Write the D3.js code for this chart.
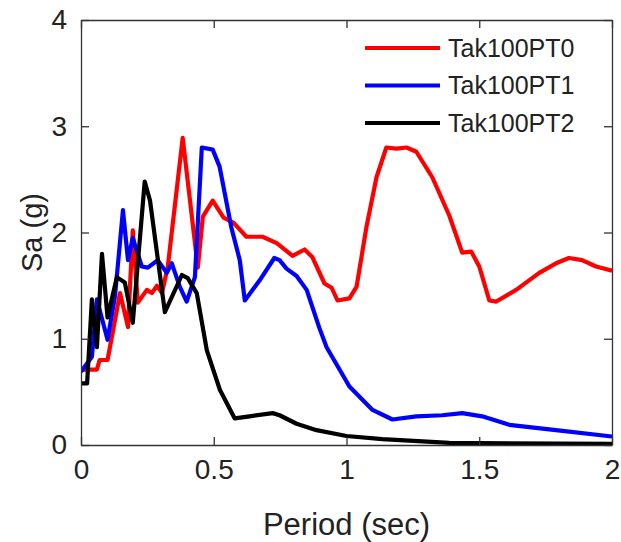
<!DOCTYPE html>
<html>
<head>
<meta charset="utf-8">
<script src="https://cdn.jsdelivr.net/npm/d3@7"></script>
<style>
  body { margin: 0; background: #fff; }
  text { font-family: "Liberation Sans", Arial, sans-serif; fill: #222; }
</style>
</head>
<body>
<div id="chart"></div>
<script>
// period (sec), Sa (g)
const pt0Period = [0, 0.06, 0.07, 0.1, 0.147, 0.177, 0.195, 0.214, 0.248, 0.267, 0.286, 0.305, 0.327, 0.383, 0.44, 0.459, 0.496, 0.537, 0.575, 0.623, 0.684, 0.737, 0.797, 0.842, 0.871, 0.917, 0.944, 0.966, 1.011, 1.038, 1.075, 1.113, 1.15, 1.188, 1.226, 1.263, 1.323, 1.387, 1.436, 1.47, 1.5, 1.538, 1.564, 1.639, 1.726, 1.789, 1.838, 1.887, 1.94, 2.0];
const pt0Sa = [0.71, 0.71, 0.8, 0.8, 1.43, 1.11, 2.02, 1.34, 1.46, 1.43, 1.5, 1.43, 1.68, 2.89, 1.67, 2.15, 2.3, 2.14, 2.09, 1.96, 1.96, 1.9, 1.78, 1.84, 1.77, 1.52, 1.48, 1.36, 1.38, 1.49, 2.05, 2.52, 2.8, 2.79, 2.8, 2.76, 2.52, 2.16, 1.81, 1.82, 1.68, 1.36, 1.35, 1.46, 1.62, 1.71, 1.76, 1.74, 1.68, 1.64];

const pt1Period = [0, 0.041, 0.06, 0.1, 0.128, 0.158, 0.177, 0.195, 0.229, 0.252, 0.289, 0.323, 0.342, 0.372, 0.398, 0.429, 0.455, 0.496, 0.522, 0.566, 0.598, 0.617, 0.673, 0.728, 0.748, 0.774, 0.812, 0.85, 0.898, 0.925, 1.011, 1.098, 1.173, 1.263, 1.361, 1.436, 1.511, 1.613, 1.789, 2.0];
const pt1Sa = [0.69, 0.83, 1.37, 0.99, 1.4, 2.21, 1.74, 1.95, 1.68, 1.67, 1.74, 1.62, 1.71, 1.49, 1.35, 1.58, 2.8, 2.78, 2.62, 2.05, 1.74, 1.36, 1.55, 1.76, 1.74, 1.66, 1.59, 1.46, 1.1, 0.92, 0.55, 0.33, 0.24, 0.27, 0.28, 0.3, 0.27, 0.19, 0.14, 0.08];

const pt2Period = [0, 0.023, 0.041, 0.06, 0.079, 0.1, 0.135, 0.165, 0.195, 0.24, 0.26, 0.316, 0.38, 0.402, 0.436, 0.474, 0.523, 0.579, 0.635, 0.722, 0.748, 0.812, 0.887, 1.0, 1.135, 1.387, 2.0];
const pt2Sa = [0.58, 0.58, 1.37, 0.92, 1.8, 1.2, 1.58, 1.53, 1.15, 2.48, 2.3, 1.25, 1.6, 1.57, 1.43, 0.89, 0.52, 0.25, 0.27, 0.3, 0.28, 0.2, 0.14, 0.085, 0.055, 0.02, 0.01];

const seriesNames = ["Tak100PT0", "Tak100PT1", "Tak100PT2"];
const seriesColors = ["#ff0000", "#0000ff", "#000000"];
const xTicks = [0, 0.5, 1, 1.5, 2];
const yTicks = [0, 1, 2, 3, 4];

const width = 621, height = 542;
const margin = {top: 20, right: 9, bottom: 97, left: 81};
const iw = width - margin.left - margin.right,
  ih = height - margin.top - margin.bottom;

const svg = d3.select("#chart")
  .append("svg")
  .attr("width", width)
  .attr("height", height);

const g = svg.append("g")
  .attr("transform", `translate(${margin.left},${margin.top})`);

const x = d3.scaleLinear().domain([0, 2]).range([0, iw]);
const y = d3.scaleLinear().domain([0, 4]).range([ih, 0]);

const series = [
  pt0Period.map((p, i) => [p, pt0Sa[i]]),
  pt1Period.map((p, i) => [p, pt1Sa[i]]),
  pt2Period.map((p, i) => [p, pt2Sa[i]])
];

const line = d3.line()
  .x(d => x(d[0]))
  .y(d => y(d[1]));

g.append("defs").append("clipPath").attr("id", "clip")
  .append("rect").attr("width", iw).attr("height", ih);

g.append("g")
  .attr("clip-path", "url(#clip)")
  .selectAll("path")
  .data(series)
  .join("path")
  .attr("fill", "none")
  .attr("stroke", (d, i) => seriesColors[i])
  .attr("stroke-width", 4.2)
  .attr("stroke-linejoin", "round")
  .attr("d", line);

// axes, ticks pointing inward, mirrored on all four sides
const axisColor = "#333";
const styleAxis = sel => {
  sel.select(".domain").attr("stroke", axisColor).attr("stroke-width", 1.3);
  sel.selectAll(".tick line").attr("stroke", axisColor).attr("stroke-width", 1.3);
};
const fmt = d3.format("");

g.append("g")
  .attr("transform", `translate(0,${ih})`)
  .call(d3.axisBottom(x).tickValues(xTicks).tickSize(-8).tickSizeOuter(0).tickPadding(14).tickFormat(fmt))
  .call(styleAxis)
  .call(a => a.selectAll("text").attr("font-size", 28).attr("fill", "#222").attr("font-family", "Liberation Sans, Arial, sans-serif"));

g.append("g")
  .call(d3.axisLeft(y).tickValues(yTicks).tickSize(-8).tickSizeOuter(0).tickPadding(14).tickFormat(fmt))
  .call(styleAxis)
  .call(a => a.selectAll("text").attr("font-size", 28).attr("fill", "#222").attr("font-family", "Liberation Sans, Arial, sans-serif"));

g.append("g")
  .call(d3.axisTop(x).tickValues(xTicks).tickSize(-8).tickSizeOuter(0).tickFormat(""))
  .call(styleAxis);

g.append("g")
  .attr("transform", `translate(${iw},0)`)
  .call(d3.axisRight(y).tickValues(yTicks).tickSize(-8).tickSizeOuter(0).tickFormat(""))
  .call(styleAxis);

svg.append("text")
  .attr("x", margin.left + iw / 2)
  .attr("y", 535)
  .attr("text-anchor", "middle")
  .attr("font-size", 31)
  .text("Period (sec)");

svg.append("text")
  .attr("transform", `translate(42,${margin.top + ih / 2}) rotate(-90)`)
  .attr("text-anchor", "middle")
  .attr("font-size", 29)
  .text("Sa (g)");

// legend
const legend = svg.append("g")
  .selectAll("g")
  .data(seriesNames)
  .join("g")
  .attr("transform", (d, i) => `translate(365,${48 + i * 37.5})`);

legend.append("line")
  .attr("x1", 0).attr("x2", 75)
  .attr("stroke", (d, i) => seriesColors[i])
  .attr("stroke-width", 4.2);

legend.append("text")
  .attr("x", 83)
  .attr("dy", "0.35em")
  .attr("font-size", 25)
  .text(d => d);
</script>
</body>
</html>
